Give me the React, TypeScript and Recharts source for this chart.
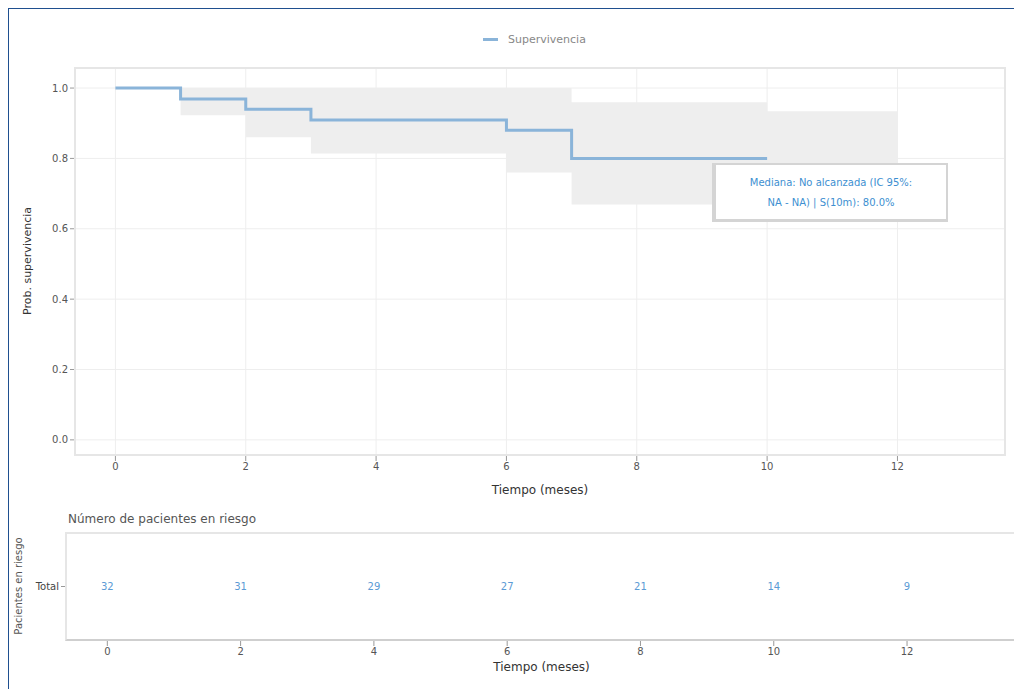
import React from "react";
import {
  ComposedChart,
  Area,
  Line,
  XAxis,
  YAxis,
  CartesianGrid,
  ScatterChart,
  Scatter,
} from "recharts";

// Curva de Kaplan-Meier (tiempo en meses)
const TIEMPOS: number[] = [0, 1, 2, 3, 6, 7, 10, 12];
const SUPERV: (number | null)[] = [1, 0.969, 0.94, 0.909, 0.88, 0.8, 0.8, null];
const IC_INF: number[] = [1, 0.923, 0.86, 0.814, 0.76, 0.669, 0.64, 0.64];
const IC_SUP: number[] = [1, 1, 1, 1, 1, 0.96, 0.934, 0.934];

const X_TICKS: number[] = [0, 2, 4, 6, 8, 10, 12];
const Y_TICKS: number[] = [0, 0.2, 0.4, 0.6, 0.8, 1.0];

// Tabla de pacientes en riesgo
const RIESGO_T: number[] = [0, 2, 4, 6, 8, 10, 12];
const RIESGO_N: number[] = [32, 31, 29, 27, 21, 14, 9];

const SERIE = "Supervivencia";
const BLUE = "#8ab4d9";
const X_DOMAIN: [number, number] = [-0.62, 13.65];

const kmData = TIEMPOS.map((t, i) => ({
  t,
  s: SUPERV[i],
  ic: [IC_INF[i], IC_SUP[i]],
}));

const riskData = RIESGO_T.map((t, i) => ({ t, y: 0.5, n: RIESGO_N[i] }));

const tickStyle = { fontSize: 10, fill: "#555" };

const RiskText = (props: any) => (
  <text
    x={props.cx}
    y={props.cy}
    textAnchor="middle"
    dominantBaseline="central"
    fill="#5b9bd5"
    fontSize={10}
  >
    {props.payload.n}
  </text>
);

const App: React.FC = () => {
  return (
    <div
      style={{
        position: "relative",
        width: 1014,
        height: 681,
        borderLeft: "1px solid #1f4f8f",
        borderTop: "1px solid #1f4f8f",
        boxSizing: "border-box",
        overflow: "hidden",
        fontFamily: "'DejaVu Sans', sans-serif",
        background: "#fff",
      }}
    >
      {/* Leyenda */}
      <div style={{ position: "absolute", left: 474, top: 24, display: "flex", alignItems: "center" }}>
        <span style={{ width: 15, height: 3, background: BLUE, display: "inline-block" }} />
        <span style={{ marginLeft: 10, fontSize: 11, color: "#888" }}>{SERIE}</span>
      </div>

      {/* Gráfica principal */}
      <div style={{ position: "absolute", left: 0, top: 0 }}>
        <ComposedChart width={1005} height={490} data={kmData} margin={{ top: 59, right: 9, bottom: 4, left: 26 }}>
          <CartesianGrid stroke="#eeeeee" />
          <XAxis
            dataKey="t"
            type="number"
            domain={X_DOMAIN}
            ticks={X_TICKS}
            allowDataOverflow
            axisLine={false}
            tickLine={{ stroke: "#999" }}
            tickSize={6}
            tick={tickStyle}
            height={40}
            label={{ value: "Tiempo (meses)", position: "insideBottom", offset: 1, fill: "#333", fontSize: 12 }}
          />
          <YAxis
            type="number"
            domain={[-0.043, 1.057]}
            ticks={Y_TICKS}
            allowDataOverflow
            tickFormatter={(v: number) => v.toFixed(1)}
            axisLine={false}
            tickLine={{ stroke: "#999" }}
            tickSize={5}
            tick={tickStyle}
            width={40}
            label={{
              content: () => (
                <text x={22} y={252} transform="rotate(-90 22 252)" textAnchor="middle" fill="#333" fontSize={11}>
                  Prob. supervivencia
                </text>
              ),
            }}
          />
          <Area
            dataKey="ic"
            type="stepAfter"
            stroke="none"
            fill="#eeeeee"
            fillOpacity={1}
            isAnimationActive={false}
          />
          <Line
            dataKey="s"
            type="stepAfter"
            stroke={BLUE}
            strokeWidth={3}
            dot={false}
            isAnimationActive={false}
          />
        </ComposedChart>
      </div>
      {/* Marco del área de trazado */}
      <div
        style={{
          position: "absolute",
          left: 65,
          top: 58,
          width: 932,
          height: 389,
          border: "2px solid #e6e6e6",
          boxSizing: "border-box",
          pointerEvents: "none",
        }}
      />

      {/* Cuadro de mediana */}
      <div
        style={{
          position: "absolute",
          left: 703,
          top: 154,
          width: 236,
          height: 59,
          background: "#fff",
          border: "2px solid #d4d4d4",
          borderLeftWidth: 4,
          borderBottomWidth: 3,
          boxSizing: "border-box",
          color: "#3d8fd1",
          fontSize: 10,
          textAlign: "center",
          lineHeight: "20px",
          paddingTop: 8,
        }}
      >
        <div>Mediana: No alcanzada (IC 95%:</div>
        <div>NA - NA) | S(10m): 80.0%</div>
      </div>

      {/* Tabla de riesgo */}
      <div style={{ position: "absolute", left: 59, top: 503, fontSize: 12, color: "#555" }}>
        Número de pacientes en riesgo
      </div>
      <div style={{ position: "absolute", left: 0, top: 500 }}>
        <ScatterChart width={1013} height={180} margin={{ top: 24, right: 5, bottom: 9, left: 17 }}>
          <XAxis
            dataKey="t"
            type="number"
            domain={X_DOMAIN}
            ticks={X_TICKS}
            allowDataOverflow
            axisLine={false}
            tickLine={{ stroke: "#999" }}
            tickSize={6}
            tick={tickStyle}
            height={40}
            label={{ value: "Tiempo (meses)", position: "insideBottom", offset: 9, fill: "#333", fontSize: 12 }}
          />
          <YAxis
            dataKey="y"
            type="number"
            domain={[0, 1]}
            ticks={[0.5]}
            tickFormatter={() => "Total"}
            axisLine={false}
            tickLine={{ stroke: "#999" }}
            tickSize={5}
            tick={{ fontSize: 10, fill: "#444" }}
            width={40}
            label={{
              content: () => (
                <text x={13} y={77} transform="rotate(-90 13 77)" textAnchor="middle" fill="#555" fontSize={10}>
                  Pacientes en riesgo
                </text>
              ),
            }}
          />
          <Scatter data={riskData} shape={RiskText} isAnimationActive={false} />
        </ScatterChart>
      </div>
      <div
        style={{
          position: "absolute",
          left: 56,
          top: 523,
          width: 960,
          height: 109,
          border: "2px solid #e6e6e6",
          borderBottomColor: "#cfcfcf",
          boxSizing: "border-box",
          pointerEvents: "none",
        }}
      />
    </div>
  );
};

export default App;
